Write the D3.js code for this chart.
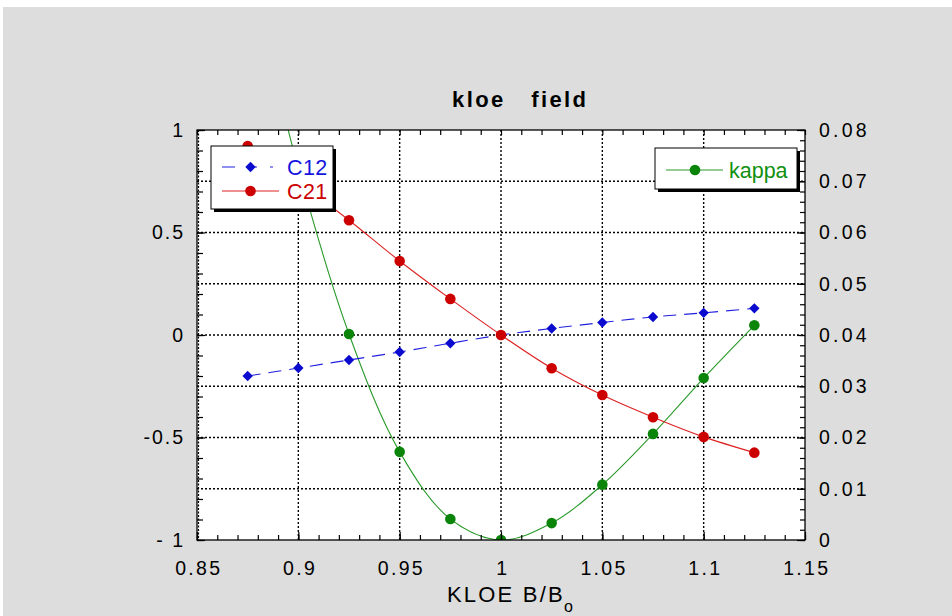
<!DOCTYPE html>
<html><head><meta charset="utf-8">
<script src="https://cdn.jsdelivr.net/npm/d3@7"></script>
<style>
body{margin:0;background:#fff}
text{font-family:"Liberation Sans",Arial,Helvetica,sans-serif}
</style>
</head><body>
<svg id="c" width="952" height="616"></svg>
<script>
// ---- data ----
const xValues = [0.875, 0.9, 0.925, 0.95, 0.975, 1.0, 1.025, 1.05, 1.075, 1.1, 1.125];
const c12 = [-0.200, -0.161, -0.122, -0.083, -0.040, 0.000, 0.032, 0.061, 0.088, 0.108, 0.130];
const c21 = [0.922, 0.745, 0.560, 0.361, 0.176, 0.000, -0.162, -0.293, -0.401, -0.497, -0.574];
const kappa = [0.113, 0.0725, 0.0402, 0.0172, 0.0041, 0.0000, 0.0033, 0.0108, 0.0207, 0.0316, 0.0419];

const xTicks = [0.85, 0.9, 0.95, 1, 1.05, 1.1, 1.15];
const xTickLabels = ["0.85", "0.9", "0.95", "1", "1.05", "1.1", "1.15"];
const yLeftTicks = [1, 0.5, 0, -0.5, -1];
const yLeftTickLabels = ["1", "0.5", "0", "-0.5", "- 1"];
const yRightTicks = [0, 0.01, 0.02, 0.03, 0.04, 0.05, 0.06, 0.07, 0.08];
const yRightTickLabels = ["0", "0.01", "0.02", "0.03", "0.04", "0.05", "0.06", "0.07", "0.08"];
const gridX = [0.9, 0.95, 1, 1.05, 1.1];
const gridY = [-0.75, -0.5, -0.25, 0, 0.25, 0.5, 0.75];

const title = "kloe   field";
const xTitle = "KLOE B/B";
const xTitleSub = "o";
const seriesNames = ["C12", "C21", "kappa"];

// ---- layout ----
const svg = d3.select("#c");
const L = 197, R = 805, T = 130, B = 540;
const x = d3.scaleLinear().domain([0.85, 1.15]).range([L, R]);
const yL = d3.scaleLinear().domain([-1, 1]).range([B, T]);
const yR = d3.scaleLinear().domain([0, 0.08]).range([B, T]);

svg.append("rect").attr("x", 3).attr("y", 7).attr("width", 949).attr("height", 609).attr("fill", "#dcdddc");
svg.append("rect").attr("x", L).attr("y", T).attr("width", R - L).attr("height", B - T).attr("fill", "#fff");

svg.append("defs").append("clipPath").attr("id", "clip")
  .append("rect").attr("x", L).attr("y", T).attr("width", R - L).attr("height", B - T);

// grid
const grid = svg.append("g").attr("stroke", "#000").attr("stroke-width", 1.4).attr("stroke-dasharray", "2,2");
grid.selectAll("line.v").data(gridX).join("line")
  .attr("x1", d => x(d)).attr("x2", d => x(d)).attr("y1", T).attr("y2", B);
grid.selectAll("line.h").data(gridY).join("line")
  .attr("y1", d => yL(d)).attr("y2", d => yL(d)).attr("x1", L).attr("x2", R);

// series
const plot = svg.append("g").attr("clip-path", "url(#clip)");
const curve = d3.curveCatmullRom.alpha(0.5);
const colC12 = "#0b0bd0", colC21 = "#cc0000", colK = "#0a850a";

plot.append("path").datum(kappa)
  .attr("fill", "none").attr("stroke", "#2a9a2a").attr("stroke-width", 1.1)
  .attr("d", d3.line().x((d, i) => x(xValues[i])).y(d => yR(d)).curve(curve));
plot.append("path").datum(c21)
  .attr("fill", "none").attr("stroke", "#dd2222").attr("stroke-width", 1.1)
  .attr("d", d3.line().x((d, i) => x(xValues[i])).y(d => yL(d)).curve(curve));
plot.append("path").datum(c12)
  .attr("fill", "none").attr("stroke", "#2020e0").attr("stroke-width", 1.1)
  .attr("stroke-dasharray", "13,8")
  .attr("d", d3.line().x((d, i) => x(xValues[i])).y(d => yL(d)).curve(curve));

const diamond = d3.symbol(d3.symbolSquare, 54);
plot.selectAll("path.c12").data(c12).join("path")
  .attr("d", diamond).attr("fill", colC12)
  .attr("transform", (d, i) => `translate(${x(xValues[i])},${yL(d)}) rotate(45)`);
plot.selectAll("circle.k").data(kappa).join("circle")
  .attr("cx", (d, i) => x(xValues[i])).attr("cy", d => yR(d)).attr("r", 5.3).attr("fill", colK);
plot.selectAll("circle.c21").data(c21).join("circle")
  .attr("cx", (d, i) => x(xValues[i])).attr("cy", d => yL(d)).attr("r", 5.3).attr("fill", colC21);

// frame
svg.append("rect").attr("x", L).attr("y", T).attr("width", R - L).attr("height", B - T)
  .attr("fill", "none").attr("stroke", "#000").attr("stroke-width", 1.3);
svg.append("line").attr("x1", L + 1.5).attr("x2", L + 1.5).attr("y1", T).attr("y2", B)
  .attr("stroke", "#000").attr("stroke-width", 1.2).attr("stroke-dasharray", "2,1.5");

// axes (minor ticks)
function styleAxis(g) { g.select(".domain").remove(); g.selectAll("line").attr("stroke", "#000").attr("stroke-width", 1.2); }
svg.append("g").attr("transform", `translate(0,${B})`)
  .call(d3.axisBottom(x).ticks(30).tickSize(-5).tickFormat("")).call(styleAxis);
svg.append("g").attr("transform", `translate(0,${T})`)
  .call(d3.axisTop(x).ticks(30).tickSize(-5).tickFormat("")).call(styleAxis);
svg.append("g").attr("transform", `translate(${L},0)`)
  .call(d3.axisLeft(yL).ticks(20).tickSize(-6).tickFormat("")).call(styleAxis);
svg.append("g").attr("transform", `translate(${R},0)`)
  .call(d3.axisRight(yR).ticks(40).tickSize(-5).tickFormat("")).call(styleAxis);

// major axes with labels
const fs = "19.5px";
const gx = svg.append("g").attr("transform", `translate(0,${B})`)
  .call(d3.axisBottom(x).tickValues(xTicks).tickSize(-8).tickPadding(21)
    .tickFormat((d, i) => xTickLabels[i]));
gx.call(styleAxis);
gx.selectAll("text").attr("font-size", fs).attr("fill", "#000").style("letter-spacing", "2.3px")
  .attr("font-family", null).attr("dx", "1.2px");

const gl = svg.append("g").attr("transform", `translate(${L},0)`)
  .call(d3.axisLeft(yL).tickValues(yLeftTicks).tickSize(-8).tickPadding(14)
    .tickFormat((d, i) => yLeftTickLabels[i]));
gl.call(styleAxis);
gl.selectAll("text").attr("font-size", fs).attr("fill", "#000").style("letter-spacing", "2px")
  .attr("font-family", null).attr("dx", "2px");

const gr = svg.append("g").attr("transform", `translate(${R},0)`)
  .call(d3.axisRight(yR).tickValues(yRightTicks).tickSize(-8).tickPadding(14)
    .tickFormat((d, i) => yRightTickLabels[i]));
gr.call(styleAxis);
gr.selectAll("text").attr("font-size", fs).attr("fill", "#000").style("letter-spacing", "3.2px")
  .attr("font-family", null);

// title
svg.append("text").attr("x", 452).attr("y", 107).attr("font-size", 22).attr("font-weight", "bold")
  .style("letter-spacing", "2.4px").style("white-space", "pre").attr("xml:space", "preserve")
  .text(title);

// x axis title
const xt = svg.append("text").attr("x", 447).attr("y", 602).attr("font-size", 22)
  .style("letter-spacing", "2.2px").attr("fill", "#000");
xt.append("tspan").text(xTitle);
xt.append("tspan").attr("font-size", 16).attr("dy", 10).attr("dx", -1).text(xTitleSub);

// legends
function legendBox(x0, y0, w, h) {
  svg.append("rect").attr("x", x0 + 3).attr("y", y0 + 3).attr("width", w).attr("height", h).attr("fill", "#000");
  svg.append("rect").attr("x", x0).attr("y", y0).attr("width", w).attr("height", h)
    .attr("fill", "#fff").attr("stroke", "#000").attr("stroke-width", 1);
}
legendBox(211, 146, 122, 63);
svg.append("line").attr("x1", 222).attr("x2", 279).attr("y1", 167).attr("y2", 167)
  .attr("stroke", "#2020e0").attr("stroke-width", 1.1).attr("stroke-dasharray", "13,15,7,13,3");
svg.append("path").attr("d", diamond).attr("fill", colC12).attr("transform", "translate(250.5,167) rotate(45)");
svg.append("text").attr("x", 287).attr("y", 175).attr("font-size", 21.5).attr("fill", "#1515e0")
  .style("letter-spacing", "0.4px").text(seriesNames[0]);
svg.append("line").attr("x1", 222).attr("x2", 279).attr("y1", 191).attr("y2", 191)
  .attr("stroke", "#dd2222").attr("stroke-width", 1.1);
svg.append("circle").attr("cx", 250.5).attr("cy", 191).attr("r", 5.3).attr("fill", colC21);
svg.append("text").attr("x", 287).attr("y", 199).attr("font-size", 21.5).attr("fill", colC21)
  .style("letter-spacing", "0.4px").text(seriesNames[1]);

legendBox(655, 148, 142, 41);
svg.append("line").attr("x1", 666).attr("x2", 723).attr("y1", 170).attr("y2", 170)
  .attr("stroke", "#2a9a2a").attr("stroke-width", 1.1);
svg.append("circle").attr("cx", 695).attr("cy", 170).attr("r", 5.3).attr("fill", colK);
svg.append("text").attr("x", 729).attr("y", 177.5).attr("font-size", 21.5).attr("fill", "#109010")
  .style("letter-spacing", "0px").text(seriesNames[2]);
</script>
</body></html>
